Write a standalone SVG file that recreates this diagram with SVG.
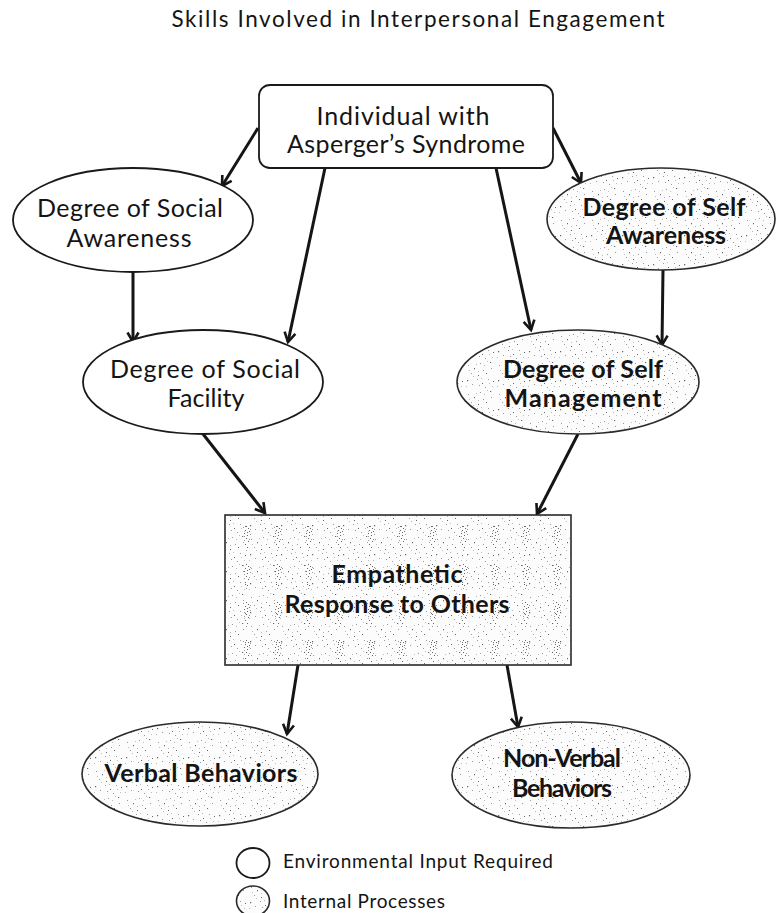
<svg xmlns="http://www.w3.org/2000/svg" width="776" height="913" viewBox="0 0 776 913">
<style>
text{font-family:"Lato","Liberation Sans",sans-serif;fill:#141414;text-anchor:middle}
.t{font-size:22.5px}
.n{font-size:25px}
.b{font-size:25px;font-weight:bold}
.lg{font-size:19px;text-anchor:start}
.env{fill:#fff;stroke:#1a1a1a;stroke-width:1.8}
.int{fill:url(#speckle);stroke:#2a2a2a;stroke-width:1.6}
.conn line{stroke:#151515;stroke-width:3;marker-end:url(#arr)}
</style>
<defs>
<pattern id="speckle" width="31" height="29" patternUnits="userSpaceOnUse">
<rect width="31" height="29" fill="#fcfcfc"/>
<path fill="#666" d="M2 3h1.2v1.2h-1.2z M17 6h1v1h-1z M25 14h1.2v1h-1.2z M9 20h1v1.2h-1z M21 25h1v1h-1z M13 27h1v1h-1z M28 4h1v1h-1z"/>
<path fill="#999" d="M7 7h1v1h-1z M12 2h1v1h-1z M20 10h1v1h-1z M3 17h1v1h-1z M15 15h1v1h-1z M26 20h1v1h-1z M23 2h1v1h-1z M18 22h1v1h-1z M6 25h1v1h-1z M14 8h1v1h-1z"/>
<path fill="#bbb" d="M1 9h1v1h-1z M11 16h1v1h-1z M19 17h1v1h-1z M27 9h1v1h-1z M8 28h1v1h-1z M24 6h1v1h-1z M16 1h1v1h-1z M4 22h1v1h-1z M22 13h1v1h-1z M13 23h1v1h-1z"/>
</pattern>
<pattern id="cluster" x="232" y="520" width="31" height="38" patternUnits="userSpaceOnUse">
<path fill="#666" d="M14 6h1v1h-1z M16 8h1v1h-1z M13 10h1v1h-1z M15 12h1v1h-1z M17 11h1v1h-1z M12 13h1v1h-1z M15 15h1v1h-1z M14 18h1v1h-1z M16 21h1v1h-1z M13 24h1v1h-1z M15 27h1v1h-1z"/>
<path fill="#999" d="M11 7h1v1h-1z M18 9h1v1h-1z M12 16h1v1h-1z M18 14h1v1h-1z M17 19h1v1h-1z M12 20h1v1h-1z M14 30h1v1h-1z"/>
</pattern>
<marker id="arr" viewBox="0 0 14 14" refX="11" refY="7" markerWidth="14" markerHeight="14" orient="auto" markerUnits="userSpaceOnUse" overflow="visible">
<path d="M1.5,1.5 L11,7 L1.5,12.5" fill="none" stroke="#151515" stroke-width="2.6"/>
</marker>
</defs>
<rect width="776" height="913" fill="#fff"/>

<text class="t" x="418" y="27" textLength="493" lengthAdjust="spacing">Skills Involved in Interpersonal Engagement</text>

<g id="connectors" class="conn">
<line x1="258" y1="128" x2="222" y2="186"/>
<line x1="325" y1="168" x2="288" y2="342"/>
<line x1="496" y1="168" x2="531" y2="330"/>
<line x1="553" y1="128" x2="581" y2="183"/>
<line x1="133" y1="272" x2="133" y2="342"/>
<line x1="663" y1="270" x2="662" y2="345"/>
<line x1="203" y1="434" x2="265" y2="513"/>
<line x1="578" y1="434" x2="537" y2="514"/>
<line x1="298" y1="665" x2="287" y2="734"/>
<line x1="507" y1="665" x2="518" y2="727"/>
</g>

<g id="individual">
<rect x="259" y="85" width="294" height="83" rx="11" fill="#fff" stroke="#1a1a1a" stroke-width="1.8"/>
<text class="n" x="403" y="125" textLength="173" lengthAdjust="spacing">Individual with</text>
<text class="n" x="406" y="153" textLength="238" lengthAdjust="spacing">Asperger’s Syndrome</text>
</g>

<g id="social-awareness">
<ellipse class="env" cx="133" cy="220" rx="120" ry="52"/>
<text class="n" x="130" y="217" textLength="186" lengthAdjust="spacing">Degree of Social</text>
<text class="n" x="129" y="247" textLength="125" lengthAdjust="spacing">Awareness</text>
</g>

<g id="self-awareness">
<ellipse class="int" cx="661" cy="219" rx="114" ry="51"/>
<text class="b" x="664" y="216" textLength="163" lengthAdjust="spacing">Degree of Self</text>
<text class="b" x="666" y="244" textLength="120" lengthAdjust="spacing">Awareness</text>
</g>

<g id="social-facility">
<ellipse class="env" cx="203" cy="382" rx="120" ry="52"/>
<text class="n" x="205" y="378" textLength="190" lengthAdjust="spacing">Degree of Social</text>
<text class="n" x="206" y="407" textLength="77" lengthAdjust="spacing">Facility</text>
</g>

<g id="self-management">
<ellipse class="int" cx="578" cy="382" rx="121" ry="52"/>
<text class="b" x="583" y="378" textLength="160" lengthAdjust="spacing">Degree of Self</text>
<text class="b" x="583" y="407" textLength="157" lengthAdjust="spacing">Management</text>
</g>

<g id="empathetic">
<rect x="225" y="515" width="346" height="150" fill="url(#speckle)" stroke="#2a2a2a" stroke-width="1.6"/>
<rect x="226" y="516" width="344" height="148" fill="url(#cluster)"/>
<text class="b" x="397" y="583" textLength="131" lengthAdjust="spacing">Empathetic</text>
<text class="b" x="397" y="613" textLength="225" lengthAdjust="spacing">Response to Others</text>
</g>

<g id="verbal">
<ellipse class="int" cx="200" cy="774" rx="118" ry="52"/>
<text class="b" x="201" y="782" textLength="193" lengthAdjust="spacing">Verbal Behaviors</text>
</g>

<g id="non-verbal">
<ellipse class="int" cx="571" cy="775" rx="119" ry="53"/>
<text class="b" x="562" y="767" textLength="118" lengthAdjust="spacing">Non-Verbal</text>
<text class="b" x="562" y="797" textLength="100" lengthAdjust="spacing">Behaviors</text>
</g>

<g id="legend-env">
<ellipse class="env" cx="253" cy="863" rx="16.5" ry="15"/>
<text class="lg" x="283" y="868" textLength="270" lengthAdjust="spacing">Environmental Input Required</text>
</g>
<g id="legend-int">
<ellipse class="int" cx="253" cy="901" rx="16.5" ry="15"/>
<text class="lg" x="283" y="908" textLength="162" lengthAdjust="spacing">Internal Processes</text>
</g>
</svg>
